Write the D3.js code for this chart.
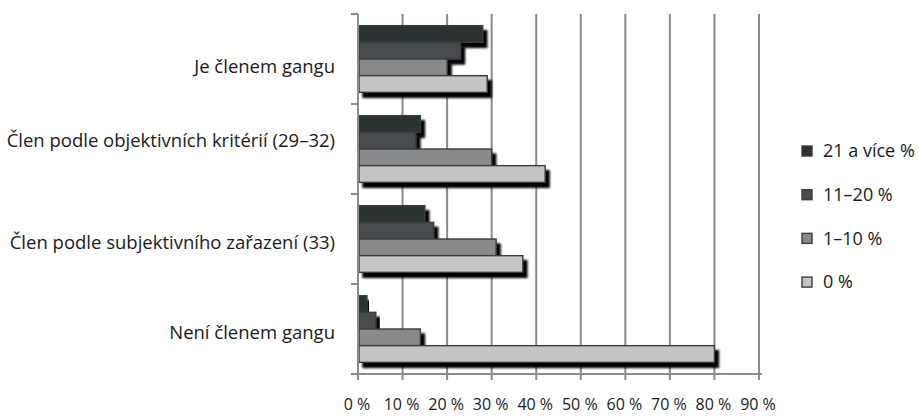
<!DOCTYPE html>
<html><head><meta charset="utf-8">
<script src="https://cdn.jsdelivr.net/npm/d3@7"></script>
<style>
html,body{margin:0;padding:0;background:#fff;}
text{font-family:"Open Sans","Noto Sans",sans-serif;fill:#1a1a1a;}
</style></head>
<body><svg id="c" width="919" height="416"></svg>
<script>
const categories = ["Je členem gangu","Člen podle objektivních kritérií (29–32)","Člen podle subjektivního zařazení (33)","Není členem gangu"];
const seriesNames = ["21 a více %","11–20 %","1–10 %","0 %"];
const s21 = [28, 14, 15, 2];
const s11 = [23, 13, 17, 4];
const s1 = [20, 30, 31, 14];
const s0 = [29, 42, 37, 80];
const xTicks = [0,10,20,30,40,50,60,70,80,90];
const xTickLabels = ["0 %","10 %","20 %","30 %","40 %","50 %","60 %","70 %","80 %","90 %"];

const seriesValues = [s21, s11, s1, s0];
const colors = ["#2c3032","#474b4d","#87898a","#c4c6c5"];
const labelNudge = [8, -8, 4, 4];

const svg = d3.select("#c");
const x = d3.scaleLinear().domain([0,90]).range([358,759]);
const y = d3.scaleBand().domain(categories).range([14,374]).padding(0);
const ys = d3.scaleBand().domain(seriesNames).range([0,y.bandwidth()]).paddingInner(0).paddingOuter(0.7);

const defs = svg.append("defs");
const f = defs.append("filter").attr("id","sh").attr("x","-10%").attr("y","-30%").attr("width","130%").attr("height","180%");
f.append("feGaussianBlur").attr("in","SourceAlpha").attr("stdDeviation",0.8).attr("result","b");
f.append("feOffset").attr("in","b").attr("dx",4).attr("dy",5).attr("result","o");
const m = f.append("feMerge"); m.append("feMergeNode").attr("in","o"); m.append("feMergeNode").attr("in","SourceGraphic");

// gridlines
svg.append("g").selectAll("line").data(xTicks.slice(1)).join("line")
  .attr("x1",d=>x(d)).attr("x2",d=>x(d)).attr("y1",14).attr("y2",374)
  .attr("stroke","#8a8a8a").attr("stroke-width",2);

// bars
const rows = [];
categories.forEach((c,ci)=>seriesNames.forEach((s,si)=>rows.push({c,s,si,v:seriesValues[si][ci]})));
svg.append("g").selectAll("rect").data(rows).join("rect")
  .attr("x",x(0)+1).attr("y",d=>y(d.c)+ys(d.s))
  .attr("width",d=>x(d.v)-x(0)-1).attr("height",ys.bandwidth())
  .attr("fill",d=>colors[d.si]).attr("stroke","#3a3c3d").attr("stroke-width",1.4)
  .attr("filter","url(#sh)");

// y axis
const ya = svg.append("g");
ya.append("line").attr("x1",358).attr("x2",358).attr("y1",14).attr("y2",374).attr("stroke","#8a8a8a").attr("stroke-width",2);
ya.selectAll("line.t").data(categories.map(c=>y(c)).concat([y.range()[1]])).join("line").attr("class","t")
  .attr("x1",351).attr("x2",358).attr("y1",d=>d).attr("y2",d=>d).attr("stroke","#8a8a8a").attr("stroke-width",2);
svg.append("g").selectAll("text").data(categories).join("text")
  .attr("x",335).attr("y",(d,i)=>y(d)+y.bandwidth()/2+labelNudge[i]).attr("dy","0.35em")
  .attr("text-anchor","end").attr("font-size",18.5).text(d=>d);

// x axis
const xa = svg.append("g");
xa.append("line").attr("x1",351).attr("x2",762).attr("y1",374).attr("y2",374).attr("stroke","#8a8a8a").attr("stroke-width",2);
xa.selectAll("line.t").data(xTicks).join("line").attr("class","t")
  .attr("x1",d=>x(d)).attr("x2",d=>x(d)).attr("y1",374).attr("y2",380).attr("stroke","#8a8a8a").attr("stroke-width",2);
xa.selectAll("text").data(xTicks).join("text")
  .attr("x",d=>x(d)-1).attr("y",410).attr("text-anchor","middle").attr("font-size",16)
  .text((d,i)=>xTickLabels[i]);

// legend
const lg = svg.append("g").selectAll("g").data(seriesNames).join("g")
  .attr("transform",(d,i)=>`translate(802,${151+i*43.7})`);
lg.append("rect").attr("x",0).attr("y",-5).attr("width",10).attr("height",10)
  .attr("fill",(d,i)=>colors[i]).attr("stroke","#3a3c3d").attr("stroke-width",1.4);
lg.append("text").attr("x",21).attr("y",0).attr("dy","0.35em").attr("font-size",18).text(d=>d);
</script></body></html>
